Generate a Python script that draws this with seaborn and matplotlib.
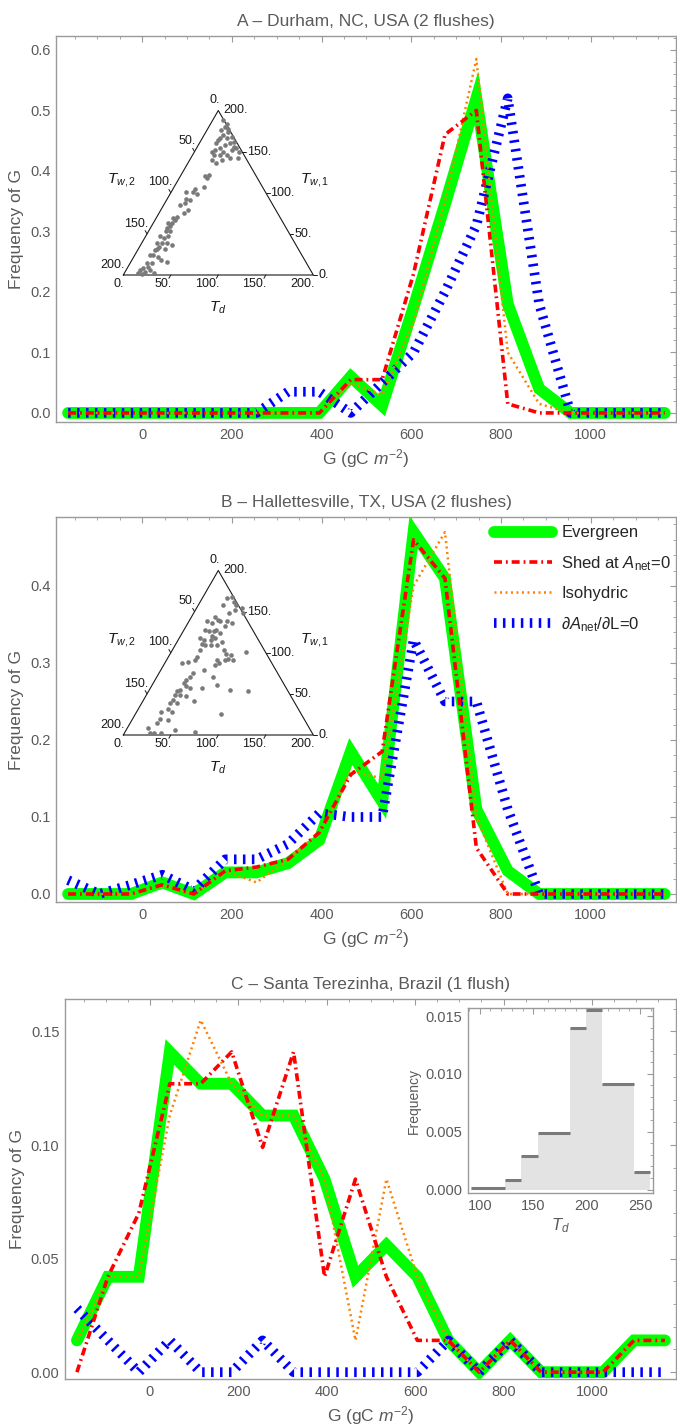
import matplotlib
matplotlib.use("Agg")
import numpy as np
import matplotlib.pyplot as plt
from matplotlib.ticker import MultipleLocator
import seaborn as sns

sns.set_theme(style="white")
plt.rcParams["font.family"] = ["Liberation Sans", "DejaVu Sans"]
plt.rcParams["mathtext.fontset"] = "custom"
plt.rcParams["mathtext.rm"] = "Liberation Sans"
plt.rcParams["mathtext.it"] = "Liberation Sans:italic"
plt.rcParams["mathtext.bf"] = "Liberation Sans:bold"

# ---------------------------------------------------------------- data
# bin centres of annual carbon gain G (gC m^-2)
G = [-165, -95, -25, 45, 115, 185, 255, 325, 395, 465,
     535, 605, 675, 745, 815, 885, 955, 1025, 1095, 1165]

# A - Durham, NC
durham_evergreen = [0, 0, 0, 0, 0, 0, 0, 0, 0, 0.06,
                    0.012, 0.175, 0.345, 0.52, 0.18, 0.04, 0, 0, 0, 0]
durham_shed = [0, 0, 0, 0, 0, 0, 0, 0, 0, 0.055,
               0.055, 0.23, 0.46, 0.50, 0.015, 0, 0, 0, 0, 0]
durham_isohydric = [0, 0, 0, 0, 0, 0, 0, 0, 0, 0.05,
                    0.03, 0.15, 0.35, 0.585, 0.10, 0.015, 0, 0, 0, 0]
durham_dadl = [0, 0, 0, 0, 0, 0, 0, 0.035, 0.035, 0.0,
               0.05, 0.10, 0.20, 0.31, 0.52, 0.18, 0, 0, 0, 0]

# B - Hallettesville, TX
hall_evergreen = [0, 0, 0, 0.015, 0, 0.028, 0.028, 0.04, 0.07, 0.185,
                  0.12, 0.47, 0.41, 0.11, 0.03, 0, 0, 0, 0, 0]
hall_shed = [0, 0, 0, 0.012, 0, 0.03, 0.035, 0.045, 0.08, 0.155,
             0.185, 0.46, 0.41, 0.06, 0, 0, 0, 0, 0, 0]
hall_isohydric = [0, 0, 0, 0.012, 0, 0.03, 0.015, 0.045, 0.08, 0.16,
                  0.15, 0.40, 0.47, 0.10, 0, 0, 0, 0, 0, 0]
hall_dadl = [0.018, 0, 0.012, 0.025, 0.005, 0.045, 0.045, 0.065, 0.105, 0.10,
             0.10, 0.33, 0.25, 0.25, 0.11, 0, 0, 0, 0, 0]

# C - Santa Terezinha, Brazil
st_evergreen = [0.014, 0.042, 0.042, 0.141, 0.127, 0.127, 0.113, 0.113, 0.085, 0.042,
                0.056, 0.042, 0.014, 0, 0.014, 0, 0, 0, 0.014, 0.014]
st_shed = [0, 0.042, 0.070, 0.127, 0.127, 0.141, 0.099, 0.141, 0.042, 0.085,
           0.042, 0.014, 0.014, 0, 0.014, 0, 0, 0, 0.014, 0.014]
st_isohydric = [0.014, 0.042, 0.042, 0.113, 0.155, 0.127, 0.113, 0.113, 0.085, 0.014,
                0.085, 0.042, 0.014, 0, 0.014, 0, 0, 0, 0.014, 0.014]
st_dadl = [0.028, 0.014, 0, 0.014, 0, 0, 0.014, 0, 0, 0,
           0, 0, 0.014, 0, 0.014, 0, 0, 0, 0, 0]

# ternary samples (T_d, T_w,1); T_w,2 = 200 - T_d - T_w,1
durham_td = [11, 17, 17, 15, 23, 20, 19, 26, 30, 35, 32, 28, 18, 18, 25, 21, 18, 30, 36, 38,
             42, 47, 50, 41, 34, 30, 29, 22, 23, 29, 29, 26, 31, 23, 23, 16, 20, 25, 21, 17,
             29, 26, 21, 18, 20, 16, 20, 17, 23, 18, 24, 20, 15, 16, 21, 26, 33, 28, 21, 18,
             19, 16, 26, 31, 38, 23, 18, 21, 17, 25, 15, 15, 21, 31, 19, 21, 38, 28, 21, 19]
durham_tw1 = [188, 180, 184, 176, 174, 170, 166, 166, 168, 162, 160, 158, 164, 160, 154, 152, 150, 150, 146, 152,
              154, 150, 142, 142, 140, 136, 146, 146, 140, 122, 118, 120, 107, 105, 101, 101, 93, 91, 87, 85,
              79, 75, 71, 69, 63, 63, 59, 57, 53, 53, 47, 45, 47, 39, 39, 39, 37, 32, 34, 30,
              24, 24, 22, 18, 16, 14, 14, 10, 8, 6, 6, 2, 4, 2, 1, 178, 156, 99, 67, 32]

hall_td = [26, 30, 35, 40, 48, 52, 26, 37, 25, 30, 33, 40, 19, 25, 22, 27, 32, 34, 40, 33,
           38, 34, 27, 22, 27, 31, 38, 44, 47, 54, 59, 65, 64, 70, 62, 53, 54, 57, 79, 29,
           30, 30, 24, 18, 45, 36, 35, 33, 32, 36, 32, 30, 30, 35, 42, 31, 30, 31, 37, 26,
           29, 28, 38, 51, 22, 27, 39, 73, 54, 59, 68, 85, 105, 90, 54, 42, 37, 31, 42, 46, 41]
hall_tw1 = [166, 168, 162, 158, 154, 148, 158, 148, 144, 140, 138, 138, 138, 136, 128, 126, 126, 128, 124, 120,
            118, 116, 116, 118, 111, 109, 109, 109, 113, 103, 99, 97, 93, 91, 91, 91, 85, 87, 101, 103,
            95, 91, 89, 87, 79, 75, 71, 67, 63, 59, 55, 53, 49, 49, 47, 43, 39, 32, 28, 28,
            20, 14, 18, 6, 8, 2, 2, 4, 57, 71, 61, 55, 53, 26, 41, 57, 39, 2, 152, 136, 132]

# T_d histogram for Santa Terezinha (variable-width bins)
td_edges = [92, 124, 139, 154, 184, 199, 214, 244, 259]
td_freq = [0.0001, 0.0008, 0.0029, 0.0049, 0.0140, 0.0155, 0.0091, 0.0015]

labels = ["Evergreen", r"Shed at $A_{\rm net}$=0", "Isohydric",
          r"$\partial A_{\rm net}/\partial$L=0"]

# ---------------------------------------------------------------- styling
FRAME = "#9a9a9a"
TXT = "#5a5a5a"
INK = "#1a1a1a"
STYLES = [
    dict(color=(0, 1, 0), lw=8.5, ls="-", z=2),
    dict(color=(1, 0, 0), lw=2.6, ls=(0, (2.2, 1.1, 0.5, 1.1)), z=5),
    dict(color=(1, 0.5, 0), lw=1.8, ls=(0, (0.8, 1.4)), z=4),
    dict(color=(0, 0, 1), lw=7.0, ls=(0, (0.26, 0.66)), z=3),
]

W, H = 677, 1428
fig = plt.figure(figsize=(W / 100, H / 100), dpi=100)


def px_rect(l, t, r, b):
    return [l / W, 1 - b / H, (r - l) / W, (b - t) / H]


def style_frame(ax, size=10.5):
    ax.tick_params(which="both", direction="in", top=True, right=True,
                   color=FRAME, labelcolor=TXT, labelsize=size, pad=4)
    ax.tick_params(which="major", length=4.5, width=0.8)
    ax.tick_params(which="minor", length=2.5, width=0.6)
    for s in ax.spines.values():
        s.set_color(FRAME)
        s.set_linewidth(1.0)


def panel(rect, title, series, ylim, yticks, yfmt, legend=False):
    ax = fig.add_axes(rect)
    for vals, st, lab in zip(series, STYLES, labels):
        sns.lineplot(x=G, y=vals, ax=ax, color=st["color"], linewidth=st["lw"],
                     linestyle=st["ls"], zorder=st["z"], errorbar=None,
                     label=lab if legend else None, solid_joinstyle="miter",
                     dash_capstyle="butt")
    ax.set_xlim(-192, 1190)
    ax.set_ylim(*ylim)
    ax.set_xticks([0, 200, 400, 600, 800, 1000])
    ax.xaxis.set_minor_locator(MultipleLocator(50))
    ax.set_yticks(yticks)
    ax.set_yticklabels([yfmt.format(v) for v in yticks])
    ax.yaxis.set_minor_locator(MultipleLocator((yticks[1] - yticks[0]) / 5))
    style_frame(ax)
    ax.set_title(title, fontsize=12.5, color=TXT, pad=7)
    ax.set_xlabel(r"G (gC $m^{-2}$)", fontsize=12.5, color=TXT, labelpad=4)
    ax.set_ylabel("Frequency of G", fontsize=12.5, color=TXT, labelpad=4)
    if ax.get_legend() is not None:
        ax.get_legend().remove()
    return ax


axA = panel(px_rect(56, 36, 676, 422), "A \u2013 Durham, NC, USA (2 flushes)",
            [durham_evergreen, durham_shed, durham_isohydric, durham_dadl],
            (-0.015, 0.623), [0, 0.1, 0.2, 0.3, 0.4, 0.5, 0.6], "{:.1f}")
axB = panel(px_rect(56, 517, 676, 902), "B \u2013 Hallettesville, TX, USA (2 flushes)",
            [hall_evergreen, hall_shed, hall_isohydric, hall_dadl],
            (-0.0104, 0.4896), [0, 0.1, 0.2, 0.3, 0.4], "{:.1f}", legend=True)
axC = panel(px_rect(65, 999, 676, 1379), "C \u2013 Santa Terezinha, Brazil (1 flush)",
            [st_evergreen, st_shed, st_isohydric, st_dadl],
            (-0.003, 0.1643), [0, 0.05, 0.10, 0.15], "{:.2f}")

handles, labs = axB.get_legend_handles_labels()
axB.legend(handles, labs, loc="upper left", bbox_to_anchor=(0.706, 0.978),
           frameon=False, fontsize=12, handlelength=3.5, handletextpad=0.55,
           labelspacing=0.8, borderpad=0, borderaxespad=0)

# ---------------------------------------------------------------- ternary insets
SQ3 = np.sqrt(3) / 2


def to_xy(td, tw1):
    td = np.asarray(td, float)
    tw1 = np.asarray(tw1, float)
    return td + tw1 / 2, tw1 * SQ3


def ternary(bl_y, td, tw1):
    ax = fig.add_axes(px_rect(60, bl_y - 195, 390, bl_y + 55))
    ax.set_xlim(-66.6, 280.7)
    ax.set_ylim(-57.9, 205.3)
    ax.axis("off")
    ax.patch.set_alpha(0)
    x, y = to_xy(td, tw1)
    sns.scatterplot(x=x, y=y, ax=ax, color="#7a7a7a", s=11, linewidth=0, zorder=3)
    h = 200 * SQ3
    ax.plot([0, 200, 100, 0], [0, 0, h, 0], color=INK, lw=0.8, zorder=2)
    kw = dict(fontsize=9, color=INK)
    tl = 4.0
    for v in [0, 50, 100, 150, 200]:
        lab = f"{v}."
        # bottom axis: T_d
        bx, by = v, 0.0
        if 0 < v < 200:
            ax.plot([bx, bx - tl * 0.5], [by, by - tl * SQ3], color=INK, lw=0.7)
        ax.text(bx + 1, by - 3.5, lab, ha="right", va="top", **kw)
        # left axis: T_w,2 (200 at the lower-left corner)
        lx, ly = to_xy(0, 200 - v)
        if 0 < v < 200:
            ax.plot([lx, lx - tl * 0.5], [ly, ly + tl * SQ3], color=INK, lw=0.7)
        ax.text(lx + 1.5, ly + 4.5, lab, ha="right", va="bottom", **kw)
        # right axis: T_w,1 (0 at the lower-right corner)
        rx, ry = to_xy(200 - v, v)
        if v < 200:
            ax.plot([rx, rx + tl], [ry, ry], color=INK, lw=0.7)
        ax.text(rx + 5, ry, lab, ha="left", va="center", **kw)
    ax.text(-1.5, 100, r"$T_{w,2}$", ha="center", va="center", fontsize=11, color=INK)
    ax.text(201.5, 100, r"$T_{w,1}$", ha="center", va="center", fontsize=11, color=INK)
    ax.text(99.7, -34.7, r"$T_d$", ha="center", va="center", fontsize=11, color=INK)


ternary(275, durham_td, durham_tw1)
ternary(735, hall_td, hall_tw1)

# ---------------------------------------------------------------- T_d histogram inset
axI = fig.add_axes(px_rect(468, 1008, 653, 1193))
centres = [(a + b) / 2 for a, b in zip(td_edges[:-1], td_edges[1:])]
sns.histplot(x=centres, weights=td_freq, bins=td_edges, ax=axI, stat="count",
             color="#e3e3e3", alpha=1, linewidth=0, edgecolor="none")
axI.hlines(td_freq, td_edges[:-1], td_edges[1:], color="#7a7a7a", lw=2.2, zorder=3)
axI.set_xlim(89, 262)
axI.set_ylim(-0.0003, 0.0157)
axI.set_xticks([100, 150, 200, 250])
axI.xaxis.set_minor_locator(MultipleLocator(10))
axI.set_yticks([0, 0.005, 0.010, 0.015])
axI.set_yticklabels(["0.000", "0.005", "0.010", "0.015"])
axI.yaxis.set_minor_locator(MultipleLocator(0.001))
style_frame(axI, size=10.5)
axI.set_facecolor("white")
axI.set_ylabel("Frequency", fontsize=10, color=TXT, labelpad=3)
axI.set_xlabel(r"$T_d$", fontsize=12, color=TXT, labelpad=3)

fig.savefig("out.png", dpi=100, facecolor="white")
